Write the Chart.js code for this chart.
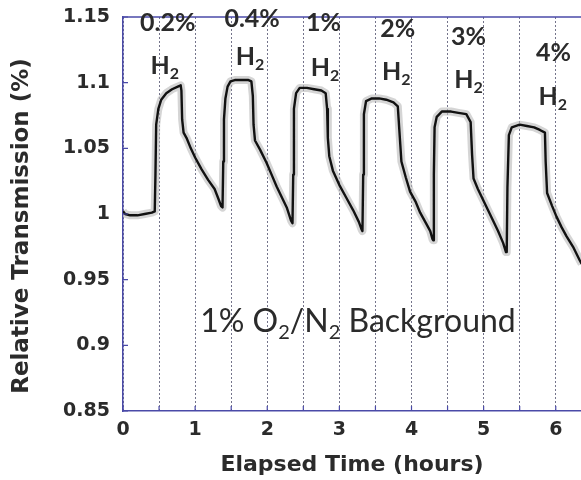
<!DOCTYPE html>
<html><head><meta charset="utf-8">
<script src="https://cdn.jsdelivr.net/npm/chart.js@4.4.1/dist/chart.umd.min.js"></script>
<style>html,body{margin:0;padding:0;background:#fff;}#wrap{width:581px;height:480px;}</style>
</head><body><div id="wrap"><canvas id="c" width="581" height="480"></canvas></div>
<script>
// ---- data ----
const timeHours = [
 0.00,0.03,0.10,0.20,0.30,0.40,0.44,0.45,0.46,0.49,0.53,0.60,0.68,0.76,0.80,0.81,0.82,0.84,0.88,0.94,1.00,1.09,1.18,1.27,1.32,1.36,1.38,
 1.39,1.40,1.42,1.45,1.49,1.55,1.65,1.74,1.78,1.80,1.81,1.83,1.90,1.99,2.06,2.13,2.20,2.27,2.33,2.35,
 2.36,2.37,2.40,2.45,2.55,2.65,2.75,2.81,2.83,2.84,2.86,2.91,3.00,3.10,3.19,3.27,3.31,3.32,
 3.33,3.34,3.37,3.45,3.55,3.65,3.75,3.81,3.83,3.86,3.92,3.98,4.06,4.12,4.20,4.26,4.29,4.30,
 4.31,4.32,4.35,4.42,4.55,4.65,4.76,4.82,4.84,4.86,4.92,4.99,5.06,5.13,5.20,5.27,5.31,5.32,
 5.33,5.35,5.39,5.50,5.60,5.70,5.78,5.85,5.86,5.88,5.95,6.01,6.08,6.15,6.24,6.33,6.36
];
const transmission = [
 1.002,1.000,0.999,0.999,1.000,1.001,1.002,1.030,1.068,1.080,1.087,1.092,1.095,1.097,1.098,1.094,1.072,1.062,1.058,1.050,1.043,1.034,1.026,1.019,1.012,1.006,1.005,
 1.040,1.072,1.088,1.097,1.101,1.102,1.102,1.102,1.101,1.090,1.068,1.056,1.049,1.039,1.030,1.021,1.013,1.005,0.995,0.993,
 1.030,1.080,1.092,1.096,1.096,1.095,1.094,1.092,1.080,1.058,1.044,1.033,1.022,1.012,1.003,0.994,0.988,0.987,
 1.030,1.076,1.086,1.088,1.088,1.087,1.085,1.082,1.065,1.040,1.028,1.017,1.009,1.001,0.993,0.987,0.981,0.980,
 1.030,1.066,1.074,1.078,1.078,1.077,1.076,1.070,1.045,1.027,1.019,1.011,1.003,0.995,0.987,0.978,0.971,0.971,
 1.020,1.060,1.066,1.068,1.067,1.066,1.064,1.062,1.040,1.016,1.006,0.998,0.990,0.983,0.975,0.965,0.962
];
const yTickValues = [0.85, 0.9, 0.95, 1, 1.05, 1.1, 1.15];
const xTickLabels = ['0','1','2','3','4','5','6'];
const h2Levels = ['0.2%','0.4%','1%','2%','3%','4%'];
const levelLabelX = [0.62, 1.79, 2.78, 3.81, 4.79, 5.97];
const levelLabelY = [1.1454, 1.1485, 1.1454, 1.1409, 1.1348, 1.1226];
const h2LabelX = [0.58, 1.76, 2.80, 3.79, 4.79, 5.96];
const h2LabelY = [1.1127, 1.1195, 1.1112, 1.108, 1.102, 1.089];
const backgroundLabelX = 1.07;
const backgroundLabelY = 0.9177;

// ---- styles ----
const axisBlue = '#4a4aa8';
const textColor = '#2b2b2b';
const tickFont = {family: 'DejaVu Sans', weight: 'bold', size: 19};
const annotFamily = 'Lato';

function drawParts(ctx, parts, x, y, size, weight, align) {
  const big = weight + ' ' + size + 'px ' + annotFamily;
  const small = weight + ' ' + Math.round(size * 0.62) + 'px ' + annotFamily;
  let total = 0;
  parts.forEach(p => { ctx.font = p.sub ? small : big; p.w = ctx.measureText(p.t).width; total += p.w; });
  let cx = align === 'center' ? x - total / 2 : x;
  ctx.textAlign = 'left';
  ctx.textBaseline = 'middle';
  parts.forEach(p => {
    ctx.font = p.sub ? small : big;
    ctx.fillText(p.t, cx, p.sub ? y + size * 0.32 : y);
    cx += p.w;
  });
}

const decorPlugin = {
  id: 'decor',
  afterDraw(chart) {
    const {ctx, chartArea, scales} = chart;
    const xs = scales.x, ys = scales.y;
    ctx.save();
    ctx.strokeStyle = axisBlue;
    ctx.lineWidth = 1.5;
    ctx.beginPath();
    ctx.moveTo(chartArea.left, chartArea.top);
    ctx.lineTo(chartArea.right, chartArea.top);
    ctx.stroke();
    ctx.lineWidth = 1.2;
    ctx.beginPath();
    yTickValues.forEach(v => {
      const py = ys.getPixelForValue(v);
      ctx.moveTo(chartArea.left, py); ctx.lineTo(chartArea.left + 5, py);
    });
    xs.ticks.forEach(t => {
      const px = xs.getPixelForValue(t.value);
      ctx.moveTo(px, chartArea.bottom); ctx.lineTo(px, chartArea.bottom - 5);
    });
    ctx.stroke();

    ctx.fillStyle = textColor;
    for (let i = 0; i < h2Levels.length; i++) {
      drawParts(ctx, [{t: h2Levels[i]}], xs.getPixelForValue(levelLabelX[i]), ys.getPixelForValue(levelLabelY[i]), 25, 'bold', 'center');
      drawParts(ctx, [{t: 'H'}, {t: '2', sub: true}], xs.getPixelForValue(h2LabelX[i]), ys.getPixelForValue(h2LabelY[i]), 25, 'bold', 'center');
    }
    drawParts(ctx, [{t: '1% O'}, {t: '2', sub: true}, {t: '/N'}, {t: '2', sub: true}, {t: ' Background'}],
      xs.getPixelForValue(backgroundLabelX), ys.getPixelForValue(backgroundLabelY), 32, 'normal', 'left');
    ctx.restore();
  }
};

const points = timeHours.map((t, i) => ({x: t, y: transmission[i]}));

new Chart(document.getElementById('c'), {
  type: 'line',
  data: {
    datasets: [
      {data: points, borderColor: '#111111', borderWidth: 2.4, pointRadius: 0, tension: 0, borderJoinStyle: 'round'},
      {data: points, borderColor: 'rgba(185,185,185,0.6)', borderWidth: 8, pointRadius: 0, tension: 0, borderJoinStyle: 'round'}
    ]
  },
  options: {
    responsive: false,
    animation: false,
    devicePixelRatio: 1,
    layout: {padding: {top: 17, right: 0, bottom: 0, left: 0}},
    plugins: {legend: {display: false}, tooltip: {enabled: false}},
    scales: {
      x: {
        type: 'linear', min: 0, max: 6.35,
        afterFit(s) { s.height = 69; s.paddingLeft = 0; s.paddingRight = 0; },
        ticks: {stepSize: 0.5, includeBounds: false, autoSkip: false, maxRotation: 0, padding: 8,
          color: textColor, font: tickFont,
          callback: (v) => Number.isInteger(v) ? xTickLabels[v] : ''},
        grid: {drawOnChartArea: true, drawTicks: false, color: 'rgba(70,70,100,0.75)', lineWidth: 1},
        border: {display: true, color: axisBlue, width: 1.5, dash: [2, 2]},
        title: {display: true, text: 'Elapsed Time (hours)', color: textColor,
          font: {family: 'DejaVu Sans', weight: 'bold', size: 22}, padding: {top: 0, bottom: 2}}
      },
      y: {
        type: 'linear', min: 0.85, max: 1.15,
        afterFit(s) { s.width = 123; s.paddingTop = 0; s.paddingBottom = 0; },
        afterBuildTicks(s) { s.ticks = yTickValues.map(v => ({value: v})); },
        ticks: {padding: 13, color: textColor, font: tickFont, callback: (v) => String(Math.round(v * 100) / 100)},
        grid: {drawOnChartArea: false, drawTicks: false},
        border: {display: true, color: axisBlue, width: 1.5},
        title: {display: true, text: 'Relative Transmission (%)   ', color: textColor,
          font: {family: 'DejaVu Sans', weight: 'bold', size: 23}, padding: {top: 8, bottom: 0}}
      }
    }
  },
  plugins: [decorPlugin]
});
</script></body></html>
